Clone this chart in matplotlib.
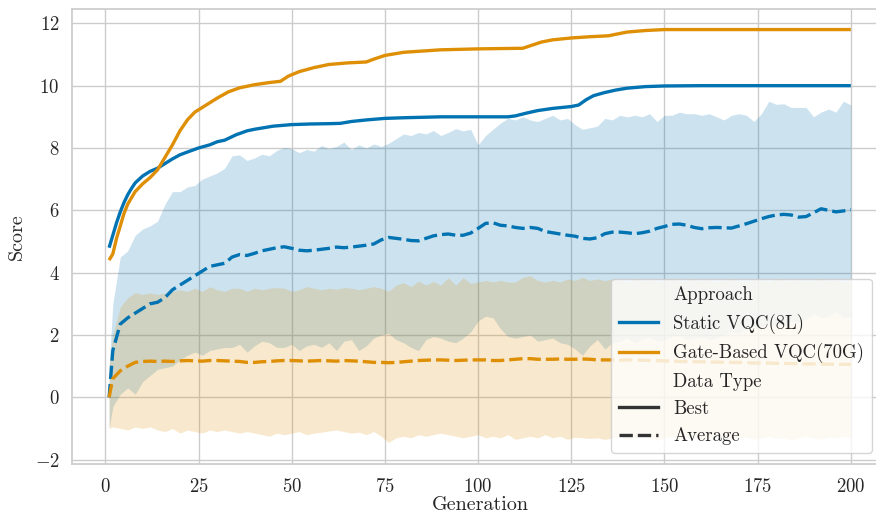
import matplotlib
matplotlib.use("Agg")
import matplotlib.pyplot as plt
from matplotlib.lines import Line2D
import numpy as np

# ---------------------------------------------------------------- data
# generations at which the population statistics are recorded
avg_gens = [1] + list(range(2, 201, 2))

# Static VQC(8L): average score and its +/- sd envelope
static_avg = [0.0, 1.5, 2.35, 2.55, 2.7, 2.85, 3.0, 3.05, 3.2, 3.45, 3.6,
              3.75, 3.9, 4.05, 4.2, 4.25, 4.3, 4.5, 4.58, 4.55, 4.62,
              4.7, 4.75, 4.8, 4.83, 4.78, 4.72, 4.7, 4.72, 4.75, 4.78,
              4.82, 4.8, 4.82, 4.85, 4.88, 4.92, 5.05, 5.13, 5.1, 5.07,
              5.03, 5.02, 5.1, 5.18, 5.22, 5.24, 5.2, 5.2, 5.27, 5.42,
              5.58, 5.6, 5.52, 5.5, 5.45, 5.42, 5.45, 5.42, 5.32, 5.28,
              5.24, 5.2, 5.17, 5.1, 5.08, 5.12, 5.25, 5.3, 5.3, 5.28,
              5.25, 5.28, 5.33, 5.42, 5.48, 5.55, 5.56, 5.52, 5.45, 5.41,
              5.44, 5.45, 5.44, 5.43, 5.5, 5.57, 5.65, 5.73, 5.8, 5.85,
              5.87, 5.85, 5.78, 5.8, 5.92, 6.05, 6.0, 5.95, 5.98, 6.02]
static_upper = [1.0, 3.0, 4.5, 4.7, 5.2, 5.4, 5.5, 5.65, 6.2, 6.6, 6.6,
                6.75, 6.8, 7.0, 7.1, 7.2, 7.35, 7.75, 7.78, 7.6, 7.68,
                7.8, 7.75, 7.92, 8.02, 7.98, 7.85, 7.95, 7.9, 8.08, 7.98,
                8.05, 8.19, 7.95, 8.1, 8.0, 8.13, 8.05, 8.15, 8.3, 8.45,
                8.4, 8.5, 8.45, 8.56, 8.4, 8.5, 8.62, 8.55, 8.6, 8.1,
                8.4, 8.6, 8.8, 8.95, 8.9, 9.0, 8.9, 8.85, 8.95, 9.05,
                8.9, 8.95, 8.75, 8.6, 8.65, 8.7, 8.95, 8.9, 9.05, 9.0,
                9.05, 9.0, 9.1, 8.85, 9.05, 9.05, 9.15, 9.1, 9.1, 9.05,
                9.1, 9.0, 8.9, 9.05, 9.1, 9.05, 8.85, 9.1, 9.5, 9.4,
                9.42, 9.3, 9.3, 9.3, 9.0, 9.15, 9.25, 9.15, 9.5, 9.38]
static_lower = [-1.0, -0.3, 0.1, 0.3, 0.1, 0.5, 0.7, 0.9, 0.95, 1.0, 1.2,
                1.35, 1.45, 1.35, 1.5, 1.55, 1.6, 1.6, 1.7, 1.45, 1.65,
                1.8, 1.75, 1.6, 1.6, 1.7, 1.5, 1.65, 1.7, 1.6, 1.75,
                1.5, 1.8, 1.85, 1.5, 1.65, 1.9, 2.0, 2.05, 1.85, 1.75,
                1.6, 1.5, 1.85, 1.95, 1.9, 1.8, 1.75, 1.9, 2.1, 2.45,
                2.6, 2.55, 2.2, 1.95, 1.9, 1.95, 2.0, 1.8, 1.85, 1.9,
                1.75, 1.7, 1.55, 1.35, 1.65, 1.85, 1.55, 1.75, 1.8, 1.9,
                1.75, 1.85, 1.95, 1.8, 1.85, 1.95, 2.0, 1.85, 1.9, 1.95,
                1.85, 1.9, 2.0, 2.1, 2.05, 2.2, 2.3, 2.25, 2.4, 2.3,
                2.35, 2.45, 2.4, 2.5, 2.7, 2.55, 2.6, 2.75, 2.55, 2.6]

# Gate-Based VQC(70G): average score and its +/- sd envelope
gate_avg = [0.0, 0.6, 0.85, 1.0, 1.12, 1.15, 1.16, 1.15, 1.16, 1.15, 1.17,
            1.18, 1.17, 1.16, 1.18, 1.18, 1.17, 1.16, 1.15, 1.12, 1.12,
            1.14, 1.15, 1.17, 1.18, 1.18, 1.17, 1.16, 1.17, 1.18, 1.17,
            1.16, 1.18, 1.17, 1.16, 1.14, 1.12, 1.12, 1.11, 1.12, 1.14,
            1.16, 1.18, 1.19, 1.2, 1.2, 1.19, 1.18, 1.19, 1.2, 1.2,
            1.2, 1.18, 1.18, 1.2, 1.22, 1.24, 1.24, 1.22, 1.22, 1.22,
            1.23, 1.22, 1.22, 1.23, 1.22, 1.2, 1.2, 1.2, 1.19, 1.2,
            1.2, 1.19, 1.18, 1.18, 1.17, 1.16, 1.15, 1.15, 1.14, 1.14,
            1.13, 1.13, 1.12, 1.12, 1.12, 1.11, 1.1, 1.1, 1.1, 1.09,
            1.09, 1.08, 1.08, 1.07, 1.07, 1.07, 1.06, 1.06, 1.06, 1.05]
gate_upper = [1.0, 2.0, 2.9, 3.2, 3.36, 3.3, 3.35, 3.3, 3.35, 3.4, 3.45,
              3.4, 3.5, 3.4, 3.55, 3.45, 3.4, 3.5, 3.5, 3.4, 3.5,
              3.45, 3.5, 3.52, 3.5, 3.4, 3.45, 3.55, 3.5, 3.45, 3.5,
              3.47, 3.52, 3.5, 3.45, 3.5, 3.55, 3.5, 3.4, 3.6, 3.68,
              3.55, 3.73, 3.6, 3.72, 3.6, 3.84, 3.6, 3.84, 3.65, 3.7,
              3.75, 3.7, 3.75, 3.7, 3.7, 3.85, 3.9, 3.75, 3.7, 3.75,
              3.7, 3.8, 3.75, 3.85, 3.75, 3.8, 3.74, 3.8, 3.75, 3.7,
              3.8, 3.72, 3.78, 3.7, 3.75, 3.82, 3.7, 3.75, 3.8, 3.72,
              3.78, 3.7, 3.75, 3.8, 3.72, 3.7, 3.78, 3.74, 3.7, 3.8,
              3.75, 3.72, 3.78, 3.7, 3.75, 3.8, 3.72, 3.76, 3.7, 3.74]
gate_lower = [-1.0, -0.95, -1.0, -1.05, -0.95, -1.0, -0.95, -1.05, -1.1,
              -1.0, -1.15, -1.05, -1.1, -1.15, -1.05, -1.1, -1.05, -1.1,
              -1.15, -1.1, -1.15, -1.2, -1.25, -1.15, -1.2, -1.15, -1.1,
              -1.2, -1.15, -1.12, -1.08, -1.05, -1.1, -1.15, -1.12, -1.2,
              -1.1, -1.25, -1.45, -1.3, -1.25, -1.3, -1.2, -1.25, -1.2,
              -1.15, -1.2, -1.25, -1.3, -1.25, -1.2, -1.3, -1.25, -1.3,
              -1.2, -1.35, -1.3, -1.25, -1.3, -1.2, -1.3, -1.25, -1.35,
              -1.28, -1.3, -1.32, -1.3, -1.35, -1.3, -1.25, -1.35, -1.3,
              -1.25, -1.3, -1.38, -1.3, -1.25, -1.35, -1.3, -1.28, -1.35,
              -1.3, -1.25, -1.3, -1.35, -1.3, -1.28, -1.35, -1.3, -1.25,
              -1.32, -1.3, -1.38, -1.3, -1.25, -1.3, -1.35, -1.28, -1.3,
              -1.25, -1.3]

# best-of-population score
static_best_gens = [1, 2, 3, 4, 5, 6, 7, 8, 10, 12, 14, 16, 18, 20, 22, 25,
                    28, 30, 32, 35, 38, 40, 45, 50, 55, 60, 63, 66, 70, 75,
                    80, 90, 100, 108, 110, 113, 116, 120, 125, 127, 129,
                    131, 134, 137, 140, 145, 150, 160, 200]
static_best = [4.8, 5.2, 5.6, 5.95, 6.25, 6.5, 6.7, 6.88, 7.1, 7.25, 7.35,
               7.5, 7.65, 7.78, 7.87, 8.0, 8.1, 8.2, 8.25, 8.42, 8.55, 8.6,
               8.7, 8.75, 8.77, 8.78, 8.79, 8.85, 8.9, 8.95, 8.97, 9.0,
               9.0, 9.0, 9.03, 9.12, 9.2, 9.27, 9.33, 9.38, 9.55, 9.68,
               9.78, 9.86, 9.92, 9.97, 9.99, 10.0, 10.0]
gate_best_gens = [1, 2, 3, 4, 5, 6, 7, 8, 10, 12, 14, 16, 18, 20, 22, 24,
                  26, 28, 30, 33, 36, 40, 44, 47, 49, 52, 56, 60, 65, 70,
                  72, 75, 80, 90, 100, 112, 114, 117, 120, 125, 130, 135,
                  137, 140, 145, 150, 200]
gate_best = [4.4, 4.6, 5.1, 5.5, 5.9, 6.2, 6.4, 6.6, 6.85, 7.05, 7.3, 7.7,
             8.1, 8.55, 8.9, 9.15, 9.3, 9.45, 9.6, 9.8, 9.93, 10.03, 10.1,
             10.14, 10.3, 10.45, 10.58, 10.68, 10.73, 10.76, 10.85, 10.97,
             11.07, 11.15, 11.18, 11.2, 11.28, 11.4, 11.47, 11.53, 11.57,
             11.6, 11.65, 11.72, 11.77, 11.8, 11.8]

approaches = ["Static VQC(8L)", "Gate-Based VQC(70G)"]
data_types = ["Best", "Average"]
x_ticks = [0, 25, 50, 75, 100, 125, 150, 175, 200]
y_ticks = [-2, 0, 2, 4, 6, 8, 10, 12]

# ---------------------------------------------------------------- style
plt.rcParams.update({
    "font.family": "cmr10",
    "mathtext.fontset": "cm",
    "axes.formatter.use_mathtext": True,
    "axes.unicode_minus": True,
    "axes.edgecolor": "0.8",
    "axes.linewidth": 1.25,
    "grid.color": "0.8",
    "grid.linewidth": 1.0,
    "xtick.major.size": 0,
    "ytick.major.size": 0,
    "xtick.major.pad": 10,
    "ytick.major.pad": 9,
    "text.color": "0.15",
    "xtick.color": "0.15",
    "ytick.color": "0.15",
    "axes.labelcolor": "0.15",
})

colors = ["#0173b2", "#de8f05"]
lw = 2.4
dash = (4, 1.5)

fig = plt.figure(figsize=(8.76, 5.14), dpi=100)
ax = fig.add_axes([0.0822, 0.0973, 0.9314, 0.8846])
ax.set_axisbelow(True)
ax.grid(True)

series = [
    (static_best_gens, static_best, avg_gens, static_avg, static_lower, static_upper),
    (gate_best_gens, gate_best, avg_gens, gate_avg, gate_lower, gate_upper),
]
for c, (bg, bv, ag, av, lo, hi) in zip(colors, series):
    ax.plot(bg, bv, color=c, lw=lw, solid_capstyle="butt")
    ax.plot(ag, av, color=c, lw=lw, dashes=dash)
    ax.fill_between(ag, lo, hi, color=c, alpha=0.2, lw=0)

ax.set_xlim(-8.95, 209.95)
ax.set_ylim(-2.14, 12.45)
ax.set_xticks(x_ticks)
ax.set_yticks(y_ticks)
ax.tick_params(labelsize=13.5)
ax.set_xlabel("Generation", fontsize=14.5, labelpad=0)
ax.set_ylabel("Score", fontsize=14.5, labelpad=6)
for s in ax.spines.values():
    s.set_color("0.8")

# legend with section headers, as seaborn lays it out
blank = Line2D([], [], linestyle="none")
handles = [blank,
           Line2D([], [], color=colors[0], lw=lw),
           Line2D([], [], color=colors[1], lw=lw),
           blank,
           Line2D([], [], color="0.2", lw=lw),
           Line2D([], [], color="0.2", lw=lw, dashes=dash)]
labels = ["Approach"] + approaches + ["Data Type"] + data_types
leg = ax.legend(handles, labels, loc="lower right", fontsize=13.5,
                framealpha=0.8, edgecolor="0.8", handlelength=2.1,
                borderaxespad=0.6, bbox_to_anchor=(0.994, 0.0))

fig.savefig("out.png", dpi=100)
